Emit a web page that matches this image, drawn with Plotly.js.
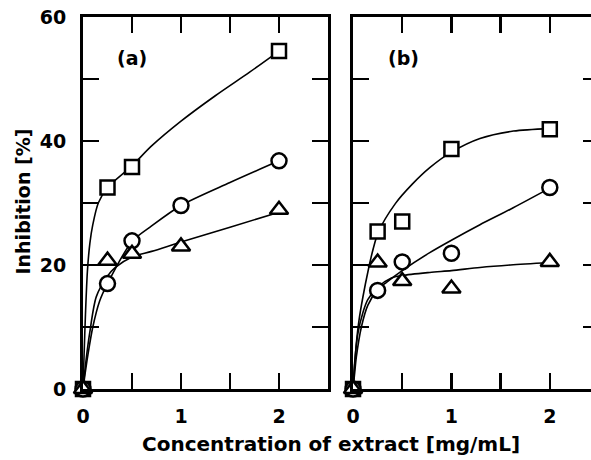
<!DOCTYPE html>
<html><head><meta charset="utf-8">
<script src="https://cdn.plot.ly/plotly-3.0.1.min.js"></script>
<style>html,body{margin:0;padding:0;overflow:hidden;background:#fff}</style>
</head><body><div id="chart" style="width:602px;height:460px"></div>
<script>
// ---- measured points ----
const concA_sq = [0, 0.25, 0.5, 2];
const conc = [0, 0.25, 0.5, 1, 2];
const a_square = [0, 32.5, 35.8, 54.5];
const a_circle = [0, 17.0, 23.9, 29.6, 36.8];
const a_triangle = [0, 20.7, 21.8, 23.0, 28.9];
const b_square = [0, 25.4, 27.0, 38.7, 41.9];
const b_circle = [0, 15.9, 20.5, 21.9, 32.5];
const b_triangle = [0, 20.4, 17.4, 16.2, 20.5];

// ---- fitted curves ----
const a_sqFit_x = [0, 0.01, 0.025, 0.045, 0.07, 0.1, 0.156, 0.25, 0.5, 0.7, 1.0, 1.35, 1.7, 2.0];
const a_sqFit_y = [0, 5, 12, 19, 23.5, 26.5, 30, 32.5, 36, 39.2, 43.2, 47.3, 51.1, 54.5];
const a_ciFit_x = [0, 0.02, 0.05, 0.1, 0.17, 0.25, 0.5, 0.7, 1.0, 1.5, 2.0];
const a_ciFit_y = [0, 2.3, 5.5, 10, 14.2, 17, 23.8, 26.3, 29.6, 33.3, 36.8];
const a_trFit_x = [0, 0.03, 0.068, 0.136, 0.25, 0.33, 0.5, 0.7, 1.0, 1.5, 2.0];
const a_trFit_y = [0, 4.5, 9, 14.9, 18.2, 19.6, 21.3, 22.2, 23.7, 26.1, 28.5];
const b_sqFit_x = [0, 0.015, 0.034, 0.06, 0.1, 0.155, 0.2, 0.257, 0.43, 0.6, 0.78, 1.0, 1.29, 1.63, 2.0];
const b_sqFit_y = [0, 3.5, 7.4, 11, 14.8, 19.2, 22.3, 25.3, 29.9, 33.0, 35.7, 38.2, 40.4, 41.6, 42.0];
const b_ciFit_x = [0, 0.015, 0.034, 0.085, 0.15, 0.25, 0.34, 0.5, 0.78, 1.0, 1.29, 1.6, 2.0];
const b_ciFit_y = [0, 2.3, 5.2, 10, 13.5, 16, 17.2, 19.1, 22, 24, 26.5, 29, 32.4];
const b_trFit_x = [0, 0.015, 0.05, 0.1, 0.15, 0.25, 0.39, 0.5, 0.78, 1.0, 1.29, 1.6, 2.0];
const b_trFit_y = [0, 4, 9, 12.3, 14.4, 16.4, 17.9, 18.3, 18.8, 19.1, 19.6, 20.0, 20.4];

const xTickVals = [0, 0.5, 1, 1.5, 2];
const xTickText = ['0', '', '1', '', '2'];
const yTickVals = [0, 10, 20, 30, 40, 50, 60];
const yTickText = ['0', '', '20', '', '40', '', '60'];
const panelLabels = ['(a)', '(b)'];
const xTitle = 'Concentration of extract [mg/mL]';
const yTitle = 'Inhibition [%]';

const FONT = 'DejaVu Sans, Arial, sans-serif';

function fit(x, y, xa, ya) {
  return {x: x, y: y, xaxis: xa, yaxis: ya, mode: 'lines', type: 'scatter',
    line: {color: '#000', width: 1.6, shape: 'spline', smoothing: 0.8},
    hoverinfo: 'skip', showlegend: false, cliponaxis: false};
}
function pts(x, y, xa, ya, sym, size) {
  return {x: x, y: y, xaxis: xa, yaxis: ya, mode: 'markers', type: 'scatter',
    marker: {symbol: sym, size: size, color: '#fff', line: {color: '#000', width: 2.5}},
    showlegend: false, cliponaxis: false};
}

const data = [
  fit(a_sqFit_x, a_sqFit_y, 'x', 'y'),
  fit(a_ciFit_x, a_ciFit_y, 'x', 'y'),
  fit(a_trFit_x, a_trFit_y, 'x', 'y'),
  fit(b_sqFit_x, b_sqFit_y, 'x2', 'y2'),
  fit(b_ciFit_x, b_ciFit_y, 'x2', 'y2'),
  fit(b_trFit_x, b_trFit_y, 'x2', 'y2'),
  pts(concA_sq, a_square, 'x', 'y', 'square', 14),
  pts(conc, a_circle, 'x', 'y', 'circle', 15),
  pts(conc, a_triangle, 'x', 'y', 'triangle-up', 16),
  pts(conc, b_square, 'x2', 'y2', 'square', 14),
  pts(conc, b_circle, 'x2', 'y2', 'circle', 15),
  pts(conc, b_triangle, 'x2', 'y2', 'triangle-up', 16)
];

function xAxis(domain, anchor) {
  return {domain: domain, anchor: anchor, range: [0, 2.5], tickvals: xTickVals, ticktext: xTickText,
    ticks: 'inside', ticklen: 16, tickwidth: 2.5, tickcolor: '#000',
    showline: true, linewidth: 3, linecolor: '#000', mirror: 'ticks',
    showgrid: false, zeroline: false, ticklabelstandoff: 8,
    tickfont: {family: FONT, size: 19, color: '#000', weight: 'bold'}};
}
function yAxis(anchor, labels) {
  return {domain: [0, 1], anchor: anchor, range: [0, 60], tickvals: yTickVals, ticktext: yTickText,
    ticks: 'inside', ticklen: 16, tickwidth: 2.5, tickcolor: '#000',
    showline: true, linewidth: 3, linecolor: '#000', mirror: 'ticks',
    showgrid: false, zeroline: false, showticklabels: labels, ticklabelstandoff: 10,
    tickfont: {family: FONT, size: 19, color: '#000', weight: 'bold'}};
}

const layout = {
  width: 602, height: 460,
  margin: {l: 83, r: 3, t: 17, b: 71},
  paper_bgcolor: '#fff', plot_bgcolor: '#fff',
  font: {family: FONT, color: '#000', weight: 'bold'},
  showlegend: false,
  xaxis: xAxis([0, 0.4748], 'y'),
  xaxis2: xAxis([0.5233, 1], 'y2'),
  yaxis: yAxis('x', true),
  yaxis2: yAxis('x2', false),
  annotations: [
    {text: panelLabels[0], xref: 'x', yref: 'y', x: 0.5, y: 53.4, showarrow: false,
      font: {family: FONT, size: 19, color: '#000', weight: 'bold'}},
    {text: panelLabels[1], xref: 'x2', yref: 'y2', x: 0.51, y: 53.4, showarrow: false,
      font: {family: FONT, size: 19, color: '#000', weight: 'bold'}},
    {text: xTitle, xref: 'paper', yref: 'paper', x: (331 - 83) / 516, y: (389 - 444) / 372,
      xanchor: 'center', yanchor: 'middle', showarrow: false,
      font: {family: FONT, size: 20, color: '#000', weight: 'bold'}},
    {text: yTitle, xref: 'paper', yref: 'paper', x: (22 - 83) / 516, y: (389 - 201.5) / 372,
      xanchor: 'center', yanchor: 'middle', textangle: -90, showarrow: false,
      font: {family: FONT, size: 19, color: '#000', weight: 'bold'}}
  ]
};

Plotly.newPlot('chart', data, layout, {displayModeBar: false, staticPlot: true});
</script>
</body></html>
